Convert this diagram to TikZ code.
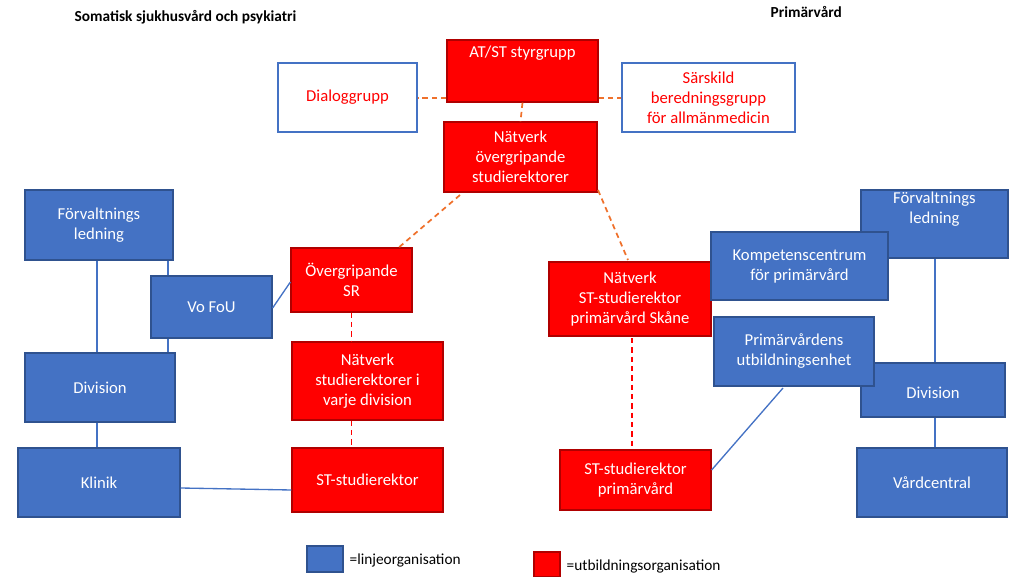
\documentclass[tikz,border=0pt]{standalone}
\usepackage{fontspec}
\setmainfont{Carlito}
\begin{document}
\begin{tikzpicture}[x=0.75pt,y=-0.75pt,
  bbox/.style={draw=bluedark,fill=blueorg,text=white,line width=0.9pt,align=center,font=\fontsize{12.5}{15}\selectfont,inner sep=1pt},
  rbox/.style={draw=reddark,fill=red,text=white,line width=0.9pt,align=center,font=\fontsize{12.5}{15}\selectfont,inner sep=1pt},
  wbox/.style={draw=blueorg,fill=white,text=red,line width=0.9pt,align=center,font=\fontsize{12.5}{15}\selectfont,inner sep=1pt},
  orl/.style={draw=orange!90!red,dashed,line width=1.3pt,dash pattern=on 4pt off 3pt},
  rdl/.style={draw=red,dashed,line width=1.3pt,dash pattern=on 4pt off 3pt},
  bl/.style={draw=blueorg,line width=1pt}]
\definecolor{blueorg}{HTML}{4472C4}
\definecolor{bluedark}{HTML}{2F528F}
\definecolor{reddark}{HTML}{B00000}
\definecolor{orange}{HTML}{ED7D31}
\useasboundingbox (0,0) rectangle (1024,577);
\newcommand{\bx}[6]{\node[#1,minimum width=(#4-#2)*0.75pt,minimum height=(#5-#3)*0.75pt] (#6) at ({(#2+#4)/2},{(#3+#5)/2})}
% headers
\node[font=\fontsize{11.5}{14}\selectfont\bfseries,anchor=west] (h1) at (70,17) {Somatisk sjukhusvård och psykiatri};
\node[font=\fontsize{11.5}{14}\selectfont\bfseries,anchor=west] (h2) at (766,12) {Primärvård};
% boxes
\bx{rbox}{447}{40}{598}{102}{at} {AT/ST styrgrupp\\[14pt]};
\bx{wbox}{278}{63}{417}{132}{dia} {Dialoggrupp};
\bx{wbox}{622}{63}{795}{132}{sar} {Särskild\\beredningsgrupp\\för allmänmedicin};
\bx{rbox}{444}{122}{597}{192}{nov} {Nätverk\\övergripande\\studierektorer};
\bx{bbox}{25}{190}{173}{260}{fl} {Förvaltnings\\ledning};
\bx{bbox}{151}{276}{272}{338}{vo} {Vo FoU};
\bx{bbox}{25}{353}{175}{422}{dl} {Division};
\bx{bbox}{18}{448}{180}{517}{kl} {Klinik};
\bx{rbox}{291}{248}{412}{312}{osr} {Övergripande\\SR};
\bx{rbox}{292}{342}{443}{420}{nsd} {Nätverk\\studierektorer i\\varje division};
\bx{rbox}{292}{448}{443}{512}{stl} {ST-studierektor};
\bx{rbox}{549}{262}{711}{336}{nst} {Nätverk\\ST-studierektor\\primärvård Skåne};
\bx{rbox}{560}{450}{711}{510}{str} {ST-studierektor\\primärvård};
\bx{bbox}{861}{190}{1008}{258}{fr} {Förvaltnings\\ledning\\[10pt]};
\bx{bbox}{861}{363}{1005}{417}{dr} {\\[-2pt]Division};
\bx{bbox}{857}{448}{1007}{517}{vc} {Vårdcentral};
\bx{bbox}{711}{232}{888}{300}{kc} {Kompetenscentrum\\för primärvård};
\bx{bbox}{714}{317}{874}{386}{pu} {Primärvårdens\\utbildningsenhet};
% legend
\bx{bbox}{307}{546}{343}{572}{lb} {};
\bx{rbox}{534}{552}{560}{577}{lr} {};
\node[font=\fontsize{11.5}{14}\selectfont,anchor=west] (tb) at (345,560) {=linjeorganisation};
\node[font=\fontsize{11.5}{14}\selectfont,anchor=west] (tr) at (562,566) {=utbildningsorganisation};
% connectors
\begin{scope}[on background layer/.style={}]
\end{scope}
\draw[orl] (at.west |- 0,98) -- (dia.east |- 0,98);
\draw[orl] (at.east |- 0,98) -- (sar.west |- 0,98);
\draw[orl] (at.south) -- (nov.north);
\draw[orl] (460,195) -- (397,249);
\draw[orl] (598,190) -- (628,260);
\draw[rdl] (osr.south) -- (nsd.north -| osr.south);
\draw[rdl] (nsd.south -| osr.south) -- (stl.north -| osr.south);
\draw[rdl] (632,338) -- (str.north -| 632,0);
\draw[bl] (fl.south -| 97,0) -- (dl.north -| 97,0);
\draw[bl] (dl.south -| 97,0) -- (kl.north -| 97,0);
\draw[bl] (fl.south -| 168,0) -- (vo.north -| 168,0);
\draw[bl] (vo.south -| 168,0) -- (dl.north -| 168,0);
\draw[bl] (vo.east |- 0,308) -- (osr.west |- 0,282);
\draw[bl] (kl.east |- 0,488) -- (stl.west |- 0,490);
\draw[bl] (fr.south -| 935,0) -- (dr.north -| 935,0);
\draw[bl] (dr.south -| 935,0) -- (vc.north -| 935,0);
\draw[bl] (str.east |- 0,470) -- (783,388);
\end{tikzpicture}
\end{document}
